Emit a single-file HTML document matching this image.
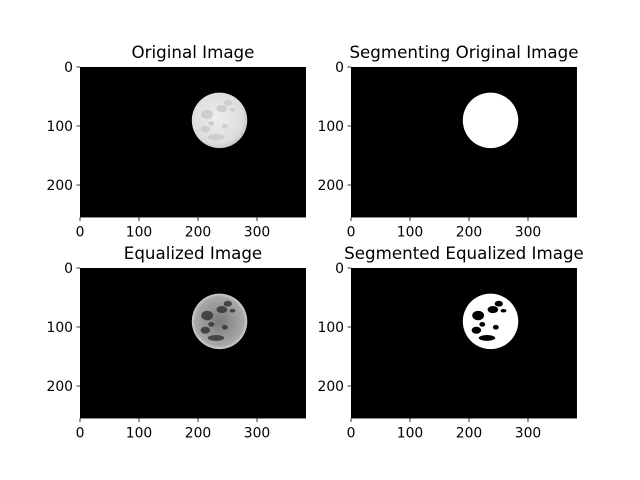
<!DOCTYPE html>
<html><head><meta charset="utf-8"><style>
body{margin:0;background:#fff}
svg{display:block}
text{font-family:"DejaVu Sans","Liberation Sans",sans-serif;fill:#000}
</style></head><body>
<svg id="fig" width="640" height="480" viewBox="0 0 640 480">
<defs>
<radialGradient id="moonGrad" cx="0.45" cy="0.45" r="0.6">
<stop offset="0" stop-color="#eeeeee"/><stop offset="0.8" stop-color="#dcdcdc"/><stop offset="1" stop-color="#bbbbbb"/>
</radialGradient>
<radialGradient id="eqGrad" cx="0.5" cy="0.5" r="0.55">
<stop offset="0" stop-color="#7a7a7a"/><stop offset="0.8" stop-color="#a8a8a8"/><stop offset="0.95" stop-color="#e0e0e0"/><stop offset="1" stop-color="#555"/>
</radialGradient>
</defs>
</svg>
<script>
const panelTitles = ["Original Image","Segmenting Original Image","Equalized Image","Segmented Equalized Image"];
const imgW = 383, imgH = 255;
const xTicks = [0,100,200,300];
const yTicks = [0,100,200];
const moonCenter = [236, 90];
const moonRadius = 47;
const craters = [[215,80,10,8],[240,70,9,6],[250,60,7,5],[212,105,8,6],[230,118,14,5],[245,100,5,4],[222,95,5,4],[258,72,5,3]];
const panels = [{x:80,y:67,kind:"orig"},{x:351,y:67,kind:"seg"},{x:80,y:268,kind:"eq"},{x:351,y:268,kind:"segeq"}];
const scale = 0.59;
const svg = document.getElementById('fig');
const NS = "http://www.w3.org/2000/svg";
function mk(tag, attrs, parent){const e=document.createElementNS(NS,tag);for(const k in attrs)e.setAttribute(k,attrs[k]);(parent||svg).appendChild(e);return e;}
panels.forEach((p,i)=>{
  const g = mk('g',{});
  
  
  const sx = v => p.x + (v+0.5)*scale;
  const sy = v => p.y + (v+0.5)*scale;
  const bg = mk('rect',{x:p.x,y:p.y,width:imgW*scale,height:imgH*scale,fill:'#000'},g);
  
  
  const cx=sx(moonCenter[0]), cy=sy(moonCenter[1]), r=moonRadius*scale;
  const fill = p.kind==="orig"?"url(#moonGrad)":p.kind==="eq"?"url(#eqGrad)":"#fff";
  const moon = mk('circle',{cx:cx,cy:cy,r:r,fill:fill},g);
  
  
  if(p.kind!=="seg"){
    const col = p.kind==="orig"?"#c8c8c8":p.kind==="eq"?"#303030":"#000";
    craters.forEach(c=>{
      const e = mk('ellipse',{cx:sx(c[0]),cy:sy(c[1]),rx:c[2]*scale,ry:c[3]*scale,fill:col,opacity:p.kind==="segeq"?1:0.8},g);
      
      
    });
  }
  const t = mk('text',{x:p.x+imgW*scale/2,y:p.y-9,'text-anchor':'middle','font-size':'16.7'},g);
  t.textContent = panelTitles[i];
  
  
  const bottom = p.y+imgH*scale;
  xTicks.forEach(v=>{
    const X = sx(v)-0.5*scale;
    mk('line',{x1:X,x2:X,y1:bottom,y2:bottom+3.5,stroke:'#000','stroke-width':0.8},g);
    const tl = mk('text',{x:X,y:bottom+19,'text-anchor':'middle','font-size':'13.9'},g);
    tl.textContent = v;
    
    
  });
  yTicks.forEach(v=>{
    const Y = sy(v)-0.5*scale;
    mk('line',{x1:p.x,x2:p.x-3.5,y1:Y,y2:Y,stroke:'#000','stroke-width':0.8},g);
    const tl = mk('text',{x:p.x-7,y:Y+5,'text-anchor':'end','font-size':'13.9'},g);
    tl.textContent = v;
    
    
  });
});
</script>
</body></html>
